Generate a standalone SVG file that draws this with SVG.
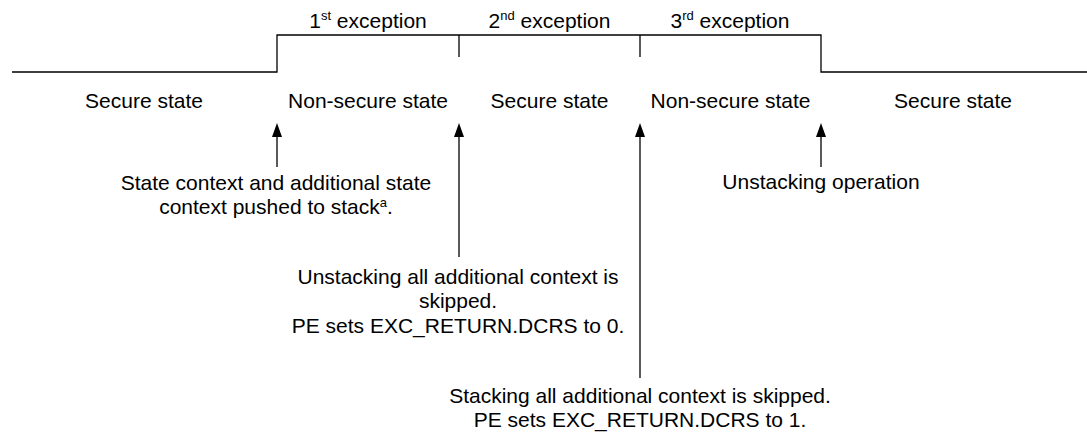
<svg xmlns="http://www.w3.org/2000/svg" width="1087" height="432" viewBox="0 0 1087 432">
<style>
text{font-family:"Liberation Sans",Arial,sans-serif;font-size:21px;fill:#000;text-anchor:middle}
.sup{font-size:13px}
.ln{stroke:#000;stroke-width:1.3;fill:none}
</style>
<defs>
<marker id="ah" viewBox="0 0 14 10" refX="7" refY="5" markerWidth="14" markerHeight="10" markerUnits="userSpaceOnUse" orient="auto">
<path d="M0,0 L14,5 L0,10 z" fill="#000"/>
</marker>
</defs>
<rect width="1087" height="432" fill="#fff"/>
<g id="timeline">
<polyline class="ln" points="12,72 277,72 277,35 821,35 821,72 1087,72"/>
<line class="ln" x1="459" y1="35" x2="459" y2="57"/>
<line class="ln" x1="640" y1="35" x2="640" y2="57"/>
</g>
<g id="exception-labels">
<text x="368" y="28">1<tspan class="sup" dy="-8">st</tspan><tspan dy="8"> exception</tspan></text>
<text x="549.5" y="28">2<tspan class="sup" dy="-8">nd</tspan><tspan dy="8"> exception</tspan></text>
<text x="730" y="28">3<tspan class="sup" dy="-8">rd</tspan><tspan dy="8"> exception</tspan></text>
</g>
<g id="state-labels">
<text x="144" y="108">Secure state</text>
<text x="368" y="108">Non-secure state</text>
<text x="549.5" y="108">Secure state</text>
<text x="730.5" y="108">Non-secure state</text>
<text x="953" y="108">Secure state</text>
</g>
<g id="connectors">
<line class="ln" x1="277" y1="167" x2="277" y2="130" marker-end="url(#ah)"/>
<line class="ln" x1="459" y1="257" x2="459" y2="130" marker-end="url(#ah)"/>
<line class="ln" x1="640" y1="378" x2="640" y2="130" marker-end="url(#ah)"/>
<line class="ln" x1="821" y1="167" x2="821" y2="130" marker-end="url(#ah)"/>
</g>
<g id="note-push">
<text x="276" y="190">State context and additional state</text>
<text x="276" y="214">context pushed to stack<tspan class="sup" dy="-7">a</tspan><tspan dy="7">.</tspan></text>
</g>
<g id="note-unstack-skip">
<text x="458" y="284">Unstacking all additional context is</text>
<text x="458" y="308">skipped.</text>
<text x="458" y="333">PE sets EXC_RETURN.DCRS to 0.</text>
</g>
<g id="note-stack-skip">
<text x="640" y="403">Stacking all additional context is skipped.</text>
<text x="640" y="427">PE sets EXC_RETURN.DCRS to 1.</text>
</g>
<g id="note-unstack">
<text x="821" y="189">Unstacking operation</text>
</g>
</svg>
